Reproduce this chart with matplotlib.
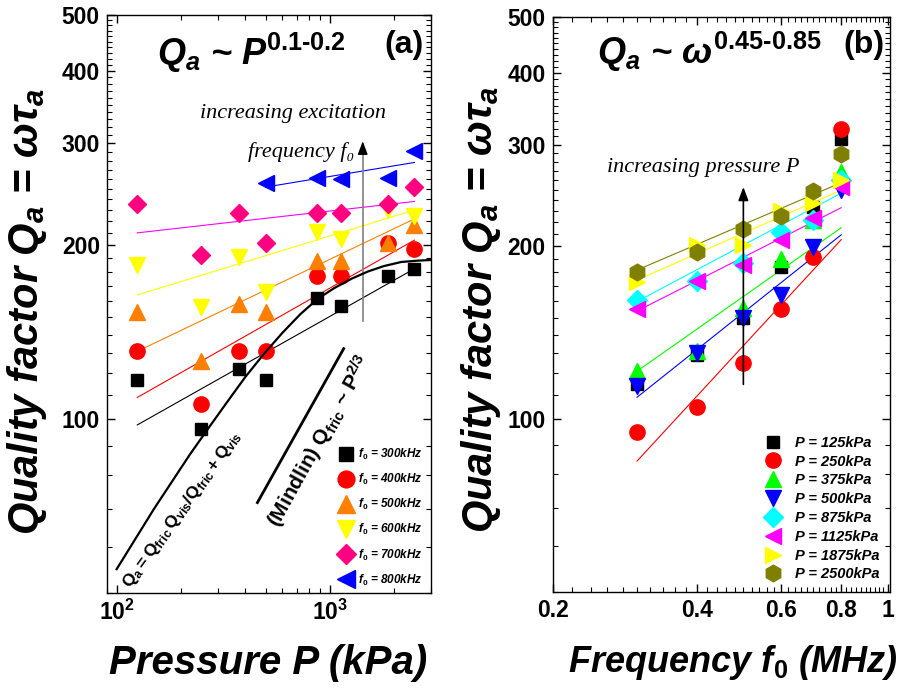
import numpy as np
import matplotlib
matplotlib.use("Agg")
import matplotlib.pyplot as plt
from matplotlib.ticker import FixedLocator, FixedFormatter, NullFormatter

plt.rcParams['font.family'] = ['Liberation Sans', 'DejaVu Sans']
plt.rcParams['mathtext.fontset'] = 'custom'
plt.rcParams['mathtext.rm'] = 'Liberation Sans:bold'
plt.rcParams['mathtext.it'] = 'Liberation Sans:bold:italic'
plt.rcParams['mathtext.bf'] = 'Liberation Sans:bold:italic'

# ---------------- panel (a): Q vs pressure ----------------
pressure = [125, 250, 375, 500, 875, 1125, 1875, 2500]
pressure_800 = [500, 875, 1125, 1875, 2500]
q_300k = [117, 96, 122, 117, 162, 157, 177, 182]
q_400k = [131, 106, 131, 131, 177, 177, 202, 197]
q_500k = [153, 126, 158, 153, 188, 188, 202, 217]
q_600k = [185, 156, 191, 166, 211, 205, 230, 225]
q_700k = [236, 192, 227, 202, 227, 227, 236, 252]
q_800k = [256, 261, 260, 261, 291]
freq_labels = ['300', '400', '500', '600', '700', '800']

# power-law fit lines (value at first and last pressure)
fit_a_start = [97.7, 109, 131, 164, 210, 252]
fit_a_end = [182, 204, 222, 230, 238, 278]

# model curve Q_a = Qfric*Qvis/(Qfric+Qvis)
model_p = [100, 120, 150, 180, 220, 270, 330, 400, 490, 600, 730, 880,
           1050, 1270, 1510, 1800, 2170, 2600, 3000]
model_q = [55, 61.3, 70, 77.5, 86.7, 96.5, 107, 118, 129.5, 141, 152, 161.5,
           168.5, 175, 180, 184, 187, 188, 188.5]
# Mindlin friction slope segment ~P^(2/3)
mindlin_p = [458, 1164]
mindlin_q = [71.7, 132.4]

# ---------------- panel (b): Q vs frequency ----------------
freq = [0.3, 0.4, 0.5, 0.6, 0.7, 0.8]
q_125 = [115, 129, 150, 184, 234, 307]
q_250 = [95, 105, 125, 155, 191, 320]
q_375 = [121, 131, 156, 190, 222, 269]
q_500 = [114, 130, 150, 164, 199, 250]
q_875 = [161, 174, 187, 211, 222, 260]
q_1125 = [155, 174, 185, 205, 224, 253]
q_1875 = [173, 201, 201, 230, 237, 260]
q_2500 = [180, 195, 214, 225, 249, 289]
p_labels = ['125', '250', '375', '500', '875', '1125', '1875', '2500']
# fit lines (None: no fit drawn)
fit_b_start = [None, 84.4, 121, 109, 160, 154, 174.4, 181.5]
fit_b_end = [None, 205, 215, 209, 247, 233, 250, 257.6]

col_a = ['black', 'red', '#FF8000', '#FFFF00', '#FF0080', '#0000FF']
line_a = ['black', 'red', '#FF8000', '#FFFF00', '#FF00FF', '#0000FF']
mk_a = ['s', 'o', '^', 'v', 'D', '<']
col_b = ['black', 'red', '#00FF00', '#0000FF', '#00FFFF', '#FF00FF', '#FFFF00', '#808000']
mk_b = ['s', 'o', '^', 'v', 'D', '<', '>', 'h']
ms_b = [9, 11, 12, 12, 10, 12, 12, 12]
ms_a = [9, 11, 12, 12, 9, 12]

fig = plt.figure(figsize=(9.06, 6.88), dpi=100)
ax1 = fig.add_axes([0.118, 0.138, 0.358, 0.840])
ax2 = fig.add_axes([0.610, 0.140, 0.372, 0.835])

ylab_font = dict(fontsize=30, fontweight='bold', fontstyle='italic')
serif_it = dict(family=['Liberation Serif', 'DejaVu Serif'], fontstyle='italic', fontsize=16)
ylab = r'Quality factor Q$_a$ = $\omega\tau_a$'


def style_axes(ax):
    ax.set_yscale('log')
    ax.set_ylim(50, 500)
    ax.yaxis.set_major_locator(FixedLocator([100, 200, 300, 400, 500]))
    ax.yaxis.set_major_formatter(FixedFormatter(['100', '200', '300', '400', '500']))
    ax.yaxis.set_minor_locator(FixedLocator(np.arange(50, 500, 10)))
    ax.yaxis.set_minor_formatter(NullFormatter())
    ax.tick_params(which='both', direction='in', top=True, right=True)
    ax.tick_params(which='major', length=6, width=1, labelsize=16.5, pad=5)
    ax.tick_params(which='minor', length=3.5, width=0.8)
    for lab in ax.get_xticklabels() + ax.get_yticklabels():
        lab.set_fontweight('bold')
    for s in ax.spines.values():
        s.set_linewidth(1.0)


# ---- panel (a)
series_a = [q_300k, q_400k, q_500k, q_600k, q_700k, q_800k]
for i, q in enumerate(series_a):
    p = pressure_800 if i == 5 else pressure
    ax1.plot(p, q, linestyle='none', marker=mk_a[i], color=col_a[i], ms=ms_a[i],
             mec=col_a[i], zorder=3,
             label=r'f$_\mathit{0}$ = ' + freq_labels[i] + 'kHz')
    ax1.plot([p[0], p[-1]], [fit_a_start[i], fit_a_end[i]], color=line_a[i], lw=0.8, zorder=2)

ax1.plot(model_p, model_q, color='black', lw=1.6, zorder=4)
ax1.plot(mindlin_p, mindlin_q, color='black', lw=2.0, zorder=4)

ax1.set_xscale('log')
ax1.set_xlim(90, 3000)
style_axes(ax1)
ax1.xaxis.set_major_locator(FixedLocator([100, 1000]))
ax1.xaxis.set_major_formatter(FixedFormatter([r'$\mathrm{10^2}$', r'$\mathrm{10^3}$']))
ax1.set_xlabel('Pressure P (kPa)', fontsize=29, fontweight='bold', fontstyle='italic')
ax1.xaxis.set_label_coords(0.496, -0.088)
ax1.set_ylabel(ylab, **ylab_font)
ax1.yaxis.set_label_coords(-0.178, 0.486)

ax1.text(0.154, 0.935, r'Q$_a$ ~ P$^{\mathit{0.1}\text{-}\mathit{0.2}}$', transform=ax1.transAxes,
         fontsize=26, fontweight='bold', fontstyle='italic', va='center', ha='left')
ax1.text(0.975, 0.948, '(a)', transform=ax1.transAxes, fontsize=23, fontweight='bold',
         ha='right', va='center')
ax1.text(0.574, 0.830, 'increasing excitation', transform=ax1.transAxes, ha='center',
         va='center', **serif_it)
ax1.text(0.762, 0.763, 'frequency f\u2080', transform=ax1.transAxes, ha='right',
         va='center', **serif_it)
ax1.plot([1430, 1430], [148, 292], color='gray', lw=1.2)
ax1.annotate('', xy=(1430, 306), xytext=(1430, 290),
             arrowprops=dict(arrowstyle='-|>,head_width=0.3,head_length=0.8',
                             color='black', lw=1.0))
ax1.text(0.657, 0.262, r'(Mindlin) $\mathrm{Q_{fric}}$ ~ $\mathrm{P^{2/3}}$',
         transform=ax1.transAxes, rotation=61, fontsize=15, fontweight='bold',
         ha='center', va='center')
ax1.text(0.232, 0.145,
         r'$\mathrm{Q_a = Q_{fric}\,Q_{vis}/Q_{fric}+Q_{vis}}$',
         transform=ax1.transAxes, rotation=54, fontsize=12.5,
         ha='center', va='center')

ax1.legend(loc='lower right', bbox_to_anchor=(1.0, -0.005), frameon=False,
           prop=dict(size=8.5, weight='bold', style='italic'), handlelength=1.0,
           handletextpad=0.5, labelspacing=0.85, borderaxespad=0.3,
           markerscale=1.1)

# ---- panel (b)
series_b = [q_125, q_250, q_375, q_500, q_875, q_1125, q_1875, q_2500]
for i, q in enumerate(series_b):
    ax2.plot(freq, q, linestyle='none', marker=mk_b[i], color=col_b[i], ms=ms_b[i],
             mec=col_b[i], zorder=3, label='P = ' + p_labels[i] + 'kPa')
    if fit_b_start[i] is not None:
        ax2.plot([freq[0], freq[-1]], [fit_b_start[i], fit_b_end[i]], color=col_b[i],
                 lw=0.8, zorder=2)

ax2.set_xscale('log')
ax2.set_xlim(0.2, 1.01)
style_axes(ax2)
ax2.xaxis.set_major_locator(FixedLocator([0.2, 0.4, 0.6, 0.8, 1.0]))
ax2.xaxis.set_major_formatter(FixedFormatter(['0.2', '0.4', '0.6', '0.8', '1']))
ax2.xaxis.set_minor_locator(FixedLocator(np.arange(0.22, 1.0, 0.02)))
ax2.xaxis.set_minor_formatter(NullFormatter())
for lab in ax2.get_xticklabels():
    lab.set_fontweight('bold')
ax2.set_xlabel(r'Frequency f$_\mathit{0}$ (MHz)', fontsize=26, fontweight='bold',
               fontstyle='italic')
ax2.xaxis.set_label_coords(0.535, -0.090)
ax2.set_ylabel(ylab, **ylab_font)
ax2.yaxis.set_label_coords(-0.148, 0.49)

ax2.text(0.131, 0.940, r'Q$_a$ ~ $\omega^{\mathit{0.45}\text{-}\mathit{0.85}}$',
         transform=ax2.transAxes, fontsize=26, fontweight='bold', fontstyle='italic',
         va='center', ha='left')
ax2.text(0.985, 0.951, '(b)', transform=ax2.transAxes, fontsize=23, fontweight='bold',
         ha='right', va='center')
ax2.text(0.448, 0.739, 'increasing pressure P', transform=ax2.transAxes, ha='center',
         va='center', **serif_it)
ax2.annotate('', xy=(0.5, 256), xytext=(0.5, 113.5),
             arrowprops=dict(arrowstyle='-|>,head_width=0.3,head_length=0.8',
                             color='black', lw=1.2))

ax2.legend(loc='lower right', bbox_to_anchor=(1.0, 0.0), frameon=False,
           prop=dict(size=10.5, weight='bold', style='italic'), handlelength=1.0,
           handletextpad=1.0, labelspacing=0.33, borderaxespad=0.3,
           markerscale=1.0)

fig.savefig('out.png', dpi=100)
